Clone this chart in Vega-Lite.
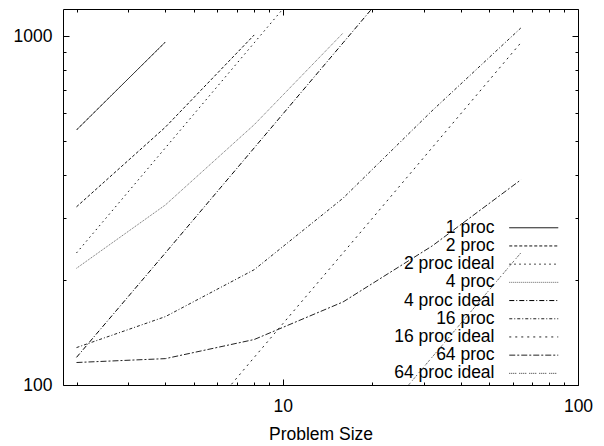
{
  "$schema": "https://vega.github.io/schema/vega-lite/v6.json",
  "width": 515,
  "height": 376,
  "autosize": "none",
  "padding": {"left": 63, "top": 9, "right": 26, "bottom": 61},
  "background": "white",
  "config": {
    "font": "Liberation Sans",
    "view": {"stroke": "black", "strokeWidth": 1},
    "axis": {"grid": false, "domain": false, "tickColor": "black", "labelColor": "black", "titleColor": "black", "labelFontSize": 17.5, "titleFontSize": 17.5, "titleFontWeight": "normal", "labelOverlap": false, "labelFlush": false, "tickWidth": 1, "format": "d"}
  },
  "data": {
    "values": [
      {"n": 2, "t": 538, "s": "1 proc"},
      {"n": 4, "t": 961, "s": "1 proc"},
      {"n": 2, "t": 324, "s": "2 proc"},
      {"n": 4, "t": 548, "s": "2 proc"},
      {"n": 8, "t": 1007, "s": "2 proc"},
      {"n": 2, "t": 239, "s": "2 proc ideal"},
      {"n": 4, "t": 478, "s": "2 proc ideal"},
      {"n": 8, "t": 956, "s": "2 proc ideal"},
      {"n": 16, "t": 1912, "s": "2 proc ideal"},
      {"n": 2, "t": 216, "s": "4 proc"},
      {"n": 4, "t": 328, "s": "4 proc"},
      {"n": 8, "t": 557, "s": "4 proc"},
      {"n": 16, "t": 1020, "s": "4 proc"},
      {"n": 2, "t": 120, "s": "4 proc ideal"},
      {"n": 4, "t": 239, "s": "4 proc ideal"},
      {"n": 8, "t": 478, "s": "4 proc ideal"},
      {"n": 16, "t": 956, "s": "4 proc ideal"},
      {"n": 32, "t": 1912, "s": "4 proc ideal"},
      {"n": 2, "t": 128, "s": "16 proc"},
      {"n": 4, "t": 157, "s": "16 proc"},
      {"n": 8, "t": 214, "s": "16 proc"},
      {"n": 16, "t": 343, "s": "16 proc"},
      {"n": 32, "t": 610, "s": "16 proc"},
      {"n": 64, "t": 1054, "s": "16 proc"},
      {"n": 2, "t": 30, "s": "16 proc ideal"},
      {"n": 4, "t": 60, "s": "16 proc ideal"},
      {"n": 8, "t": 120, "s": "16 proc ideal"},
      {"n": 16, "t": 239, "s": "16 proc ideal"},
      {"n": 32, "t": 478, "s": "16 proc ideal"},
      {"n": 64, "t": 956, "s": "16 proc ideal"},
      {"n": 2, "t": 116, "s": "64 proc"},
      {"n": 4, "t": 119, "s": "64 proc"},
      {"n": 8, "t": 135, "s": "64 proc"},
      {"n": 16, "t": 173, "s": "64 proc"},
      {"n": 32, "t": 250, "s": "64 proc"},
      {"n": 64, "t": 387, "s": "64 proc"},
      {"n": 2, "t": 7.5, "s": "64 proc ideal"},
      {"n": 4, "t": 15, "s": "64 proc ideal"},
      {"n": 8, "t": 30, "s": "64 proc ideal"},
      {"n": 16, "t": 60, "s": "64 proc ideal"},
      {"n": 32, "t": 120, "s": "64 proc ideal"},
      {"n": 64, "t": 239, "s": "64 proc ideal"}
    ]
  },
  "layer": [
    {
      "mark": {"type": "line", "clip": true, "strokeWidth": 1},
      "encoding": {
        "x": {"field": "n", "type": "quantitative", "scale": {"type": "log", "domain": [1.8, 100], "nice": false},
          "axis": {"orient": "bottom", "title": "Problem Size", "values": [2,3,4,5,6,7,8,9,10,20,30,40,50,60,70,80,90,100],
            "labelExpr": "datum.value == 10 || datum.value == 100 ? datum.label : ''",
            "tickSize": {"condition": {"test": "datum.value == 10 || datum.value == 100", "value": -6}, "value": -3},
            "labelPadding": 18, "titlePadding": 8}},
        "y": {"field": "t", "type": "quantitative", "scale": {"type": "log", "domain": [100, 1195], "nice": false},
          "axis": {"orient": "left", "title": null, "values": [100,200,300,400,500,600,700,800,900,1000],
            "labelExpr": "datum.value == 100 || datum.value == 1000 ? datum.label : ''",
            "tickSize": {"condition": {"test": "datum.value == 100 || datum.value == 1000", "value": -6}, "value": -3},
            "labelPadding": 17}},
        "color": {"field": "s", "type": "nominal", "title": null,
          "scale": {"domain": ["1 proc","2 proc","2 proc ideal","4 proc","4 proc ideal","16 proc","16 proc ideal","64 proc","64 proc ideal"],
            "range": ["#000000","#111111","#111111","#666666","#000000","#222222","#222222","#222222","#333333"]},
          "legend": {"orient": "none", "legendX": 462, "legendY": 210, "symbolType": "M-4,0H4", "symbolSize": 150, "symbolStrokeWidth": 1,
            "labelAlign": "right", "labelOffset": -48, "labelFontSize": 17.5, "labelColor": "black", "rowPadding": -0.8, "padding": 0}},
        "strokeDash": {"field": "s", "type": "nominal", "title": null,
          "scale": {"domain": ["1 proc","2 proc","2 proc ideal","4 proc","4 proc ideal","16 proc","16 proc ideal","64 proc","64 proc ideal"],
            "range": [[1,0],[3,2],[1.5,3.5],[1,1],[5,2,1,2],[3,2,1,2],[2,4],[6,2,2,2],[1,1,1,1,1,1,1,3]]},
          "legend": {"orient": "none", "legendX": 462, "legendY": 210, "symbolType": "M-4,0H4", "symbolSize": 150, "symbolStrokeWidth": 1,
            "labelAlign": "right", "labelOffset": -48, "labelFontSize": 17.5, "labelColor": "black", "rowPadding": -0.8, "padding": 0}}
      }
    },
    {
      "mark": {"type": "line", "clip": true, "opacity": 0},
      "encoding": {
        "x": {"field": "n", "type": "quantitative",
          "axis": {"orient": "top", "title": null, "labels": false, "values": [2,3,4,5,6,7,8,9,10,20,30,40,50,60,70,80,90,100],
            "tickSize": {"condition": {"test": "datum.value == 10 || datum.value == 100", "value": -6}, "value": -3}}},
        "y": {"field": "t", "type": "quantitative",
          "axis": {"orient": "right", "title": null, "labels": false, "values": [100,200,300,400,500,600,700,800,900,1000],
            "tickSize": {"condition": {"test": "datum.value == 100 || datum.value == 1000", "value": -6}, "value": -3}}},
        "detail": {"field": "s"}
      }
    }
  ],
  "resolve": {"axis": {"x": "independent", "y": "independent"}}
}
